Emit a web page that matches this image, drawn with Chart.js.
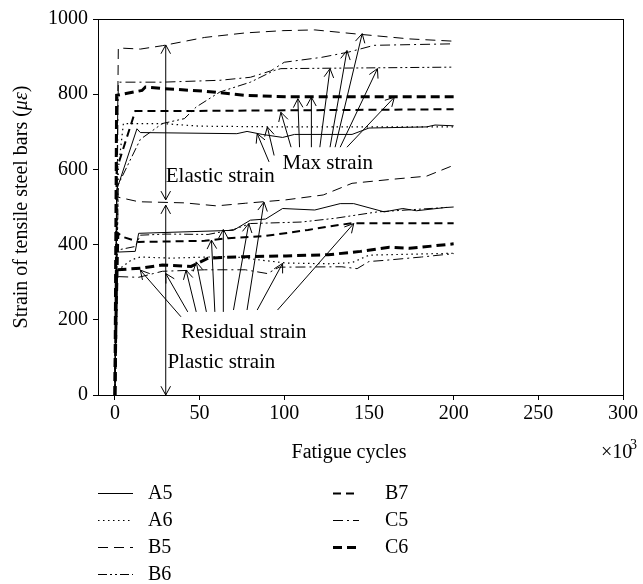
<!DOCTYPE html>
<html lang="en">
<head>
<meta charset="UTF-8">
<title>Strain of tensile steel bars</title>
<script src="https://cdn.jsdelivr.net/npm/chart.js"></script>
<style>
  html, body { margin: 0; padding: 0; background: #fff; }
</style>
</head>
<body>
<canvas id="strainChart" width="643" height="584"></canvas>
<script>
// values: [fatigue cycles (x10^3), strain (με)]
const a5Max = [[0,0],[1,545],[13,708],[15,698],[72,695],[78,701],[87,693],[99,685],[106,693],[140,693],[150,710],[184,713],[189,718],[200,716]];
const a5Res = [[0,0],[1,380],[12,382],[14,430],[70,438],[80,465],[89,468],[99,496],[118,492],[133,509],[141,509],[159,487],[170,496],[178,490],[196,499]];
const a6Max = [[0,0],[2,600],[5,722],[28,722],[50,715],[100,713],[200,713]];
const a6Res = [[0,0],[1,330],[10,360],[15,367],[33,364],[55,367],[70,368],[82,361],[101,351],[126,349],[140,352],[150,372],[200,377]];
const b5Max = [[0,0],[2,923],[15,920],[28,929],[53,951],[77,963],[99,969],[118,971],[143,960],[174,947],[200,941]];
const b5Res = [[0,0],[1,527],[14,514],[41,511],[60,503],[77,510],[101,519],[123,532],[140,563],[162,573],[184,582],[200,611]];
const b6Max = [[0,0],[2,560],[15,680],[28,722],[41,735],[48,766],[62,806],[80,832],[94,863],[98,868],[150,870],[200,872]];
const b6Res = [[0,0],[1,385],[12,395],[15,425],[30,428],[55,427],[70,440],[80,456],[110,460],[130,470],[155,487],[200,500]];
const b7Max = [[0,0],[1,600],[12,755],[30,755],[100,757],[200,760]];
const b7Res = [[0,0],[2,430],[5,420],[14,407],[53,410],[67,417],[89,423],[114,439],[126,448],[140,457],[200,457]];
const c5Max = [[0,0],[2,832],[28,832],[62,837],[80,845],[92,862],[100,885],[122,898],[138,912],[153,930],[200,934]];
const c5Res = [[0,0],[1,315],[14,313],[28,329],[53,333],[77,333],[90,323],[97,340],[134,341],[143,336],[150,355],[159,358],[181,367],[200,376]];
const c6Max = [[0,0],[1,797],[16,810],[18,819],[28,815],[53,808],[77,797],[101,793],[200,793]];
const c6Res = [[0,0],[1,333],[15,337],[28,346],[45,342],[55,364],[77,368],[101,370],[126,373],[145,382],[162,393],[174,390],[200,402]];

const xTicks = [0, 50, 100, 150, 200, 250, 300];
const yTicks = [0, 200, 400, 600, 800, 1000];

// annotation arrows, in data units: [tailX, tailY, headX, headY]
const maxArrows = [[91,620,84,695],[94,637,90,713],[104,659,98,752],[109,659,108,788],[116,659,116,792],
                   [121,659,127,868],[127,659,137,916],[130,659,146,961],[133,659,155,868],[137,659,165,792]];
const residualArrows = [[39,208,15,332],[43,221,30,323],[48,221,42,332],[54,221,48,354],[59,221,57,412],
                        [64,221,64,440],[70,226,79,456],[78,226,88,513],[84,226,99,350],[96,226,141,456]];
const elasticSpan = [30, 519, 30, 931];
const plasticSpan = [30, 505, 30, 0];

const FONT = "'Liberation Serif', 'Times New Roman', serif";

const styles = {
  A5: { dash: [], width: 1 },
  A6: { dash: [1.5, 3.5], width: 1.2 },
  B5: { dash: [10, 6], width: 1 },
  B6: { dash: [9, 3, 2, 3, 2, 3], width: 1 },
  B7: { dash: [8, 5], width: 2 },
  C5: { dash: [10, 4, 2, 4], width: 1 },
  C6: { dash: [9, 5], width: 3 }
};

const curves = [
  ["A5", a5Max], ["A5", a5Res], ["A6", a6Max], ["A6", a6Res],
  ["B5", b5Max], ["B5", b5Res], ["B6", b6Max], ["B6", b6Res],
  ["B7", b7Max], ["B7", b7Res], ["C5", c5Max], ["C5", c5Res],
  ["C6", c6Max], ["C6", c6Res]
];

const datasets = curves.map(([name, pts]) => ({
  label: name,
  data: pts.map(p => ({ x: p[0], y: p[1] })),
  borderColor: "#000",
  borderWidth: styles[name].width,
  borderDash: styles[name].dash,
  pointRadius: 0,
  fill: false,
  tension: 0
}));

function arrowHead(ctx, x0, y0, x1, y1) {
  const ang = Math.atan2(y1 - y0, x1 - x0), len = 10, spread = 0.5;
  ctx.beginPath();
  ctx.moveTo(x1 - len * Math.cos(ang - spread), y1 - len * Math.sin(ang - spread));
  ctx.lineTo(x1, y1);
  ctx.lineTo(x1 - len * Math.cos(ang + spread), y1 - len * Math.sin(ang + spread));
  ctx.stroke();
}

function arrow(ctx, x, y, a, both) {
  const x0 = x.getPixelForValue(a[0]), y0 = y.getPixelForValue(a[1]);
  const x1 = x.getPixelForValue(a[2]), y1 = y.getPixelForValue(a[3]);
  ctx.beginPath();
  ctx.moveTo(x0, y0);
  ctx.lineTo(x1, y1);
  ctx.stroke();
  arrowHead(ctx, x0, y0, x1, y1);
  if (both) arrowHead(ctx, x1, y1, x0, y0);
}

const annotate = {
  id: "annotate",
  afterDraw(chart) {
    const { ctx, chartArea: a, scales: { x, y } } = chart;
    ctx.save();
    ctx.strokeStyle = "#000";
    ctx.fillStyle = "#000";
    ctx.lineWidth = 1;
    ctx.setLineDash([]);
    ctx.strokeRect(Math.round(a.left) + 0.5, Math.round(a.top) + 0.5, Math.round(a.right - a.left), Math.round(a.bottom - a.top));

    maxArrows.forEach(r => arrow(ctx, x, y, r, false));
    residualArrows.forEach(r => arrow(ctx, x, y, r, false));
    arrow(ctx, x, y, elasticSpan, true);
    arrow(ctx, x, y, plasticSpan, true);

    ctx.font = "21px " + FONT;
    ctx.textBaseline = "alphabetic";
    ctx.textAlign = "left";
    const label = (t, vx, vy) => ctx.fillText(t, x.getPixelForValue(vx), y.getPixelForValue(vy));
    label("Elastic strain", 30, 566);
    label("Plastic strain", 31, 71);
    label("Residual strain", 39, 152);
    label("Max strain", 99, 602);

    // axis titles
    ctx.font = "20px " + FONT;
    ctx.textAlign = "center";
    ctx.fillText("Fatigue cycles", 349, 458);
    ctx.textAlign = "left";
    ctx.fillText("\u00d710", 601, 458);
    ctx.font = "14px " + FONT;
    ctx.fillText("3", 630, 449);

    ctx.save();
    ctx.translate(27, (a.top + a.bottom) / 2);
    ctx.rotate(-Math.PI / 2);
    const partA = "Strain of tensile steel bars (", partB = "\u03bc\u03b5", partC = ")";
    ctx.font = "20px " + FONT;
    const wA = ctx.measureText(partA).width, wC = ctx.measureText(partC).width;
    ctx.font = "italic 20px " + FONT;
    const wB = ctx.measureText(partB).width;
    let px = -(wA + wB + wC) / 2;
    ctx.font = "20px " + FONT;
    ctx.fillText(partA, px, 0);
    ctx.font = "italic 20px " + FONT;
    ctx.fillText(partB, px + wA, 0);
    ctx.font = "20px " + FONT;
    ctx.fillText(partC, px + wA + wB, 0);
    ctx.restore();

    // legend, two columns
    const rows = [["A5", 98, 493], ["A6", 98, 520], ["B5", 98, 547], ["B6", 98, 574],
                  ["B7", 333, 493], ["C5", 333, 520], ["C6", 333, 547]];
    ctx.font = "20px " + FONT;
    ctx.textBaseline = "middle";
    rows.forEach(([name, lx, ly]) => {
      const s = styles[name];
      const w = lx < 200 ? 35 : 26;
      ctx.save();
      ctx.lineWidth = s.width;
      ctx.setLineDash(s.dash);
      ctx.beginPath();
      ctx.moveTo(lx, ly + 0.5);
      ctx.lineTo(lx + w, ly + 0.5);
      ctx.stroke();
      ctx.restore();
      ctx.fillText(name, lx < 200 ? 148 : 385, ly + 1);
    });
    ctx.restore();
  }
};

new Chart(document.getElementById("strainChart"), {
  type: "line",
  data: { datasets },
  options: {
    responsive: false,
    animation: false,
    devicePixelRatio: 1,
    layout: { padding: { top: 19, right: 20, left: 0, bottom: 0 } },
    plugins: { legend: { display: false }, tooltip: { enabled: false } },
    scales: {
      x: {
        type: "linear",
        min: -10,
        max: 300,
        afterBuildTicks: s => { s.ticks = xTicks.map(v => ({ value: v })); },
        afterFit: s => { s.height = 189; },
        grid: { drawOnChartArea: false, tickLength: 5, color: "#000" },
        border: { color: "#000" },
        ticks: { color: "#000", font: { family: FONT, size: 20 }, padding: 2, maxRotation: 0, autoSkip: false, callback: v => String(v) }
      },
      y: {
        min: 0,
        max: 1000,
        afterBuildTicks: s => { s.ticks = yTicks.map(v => ({ value: v })); },
        afterFit: s => { s.width = 98; },
        grid: { drawOnChartArea: false, tickLength: 5, color: "#000" },
        border: { color: "#000" },
        ticks: { color: "#000", font: { family: FONT, size: 20 }, padding: 5, callback: v => String(v) }
      }
    }
  },
  plugins: [annotate]
});
</script>
</body>
</html>
